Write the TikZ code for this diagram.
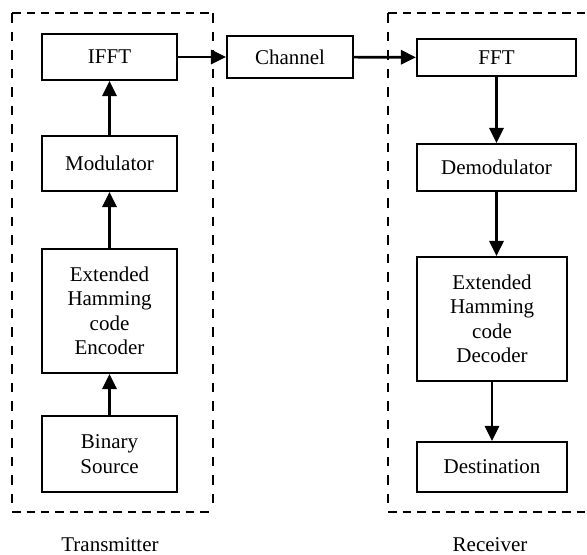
\documentclass[tikz,border=0pt]{standalone}
\usepackage{fontspec}
\setmainfont{Liberation Serif}
\usetikzlibrary{arrows.meta}
\tikzset{
  block/.style={draw, line width=1.3pt, align=center, inner sep=0pt,
    font=\fontsize{12.6}{14.7}\selectfont},
  hgroup/.style={draw, line width=1.5pt, dash pattern=on 5.1pt off 3.6pt},
  vgroup/.style={draw, line width=1.6pt, dash pattern=on 5.7pt off 5.4pt},
  caption/.style={font=\fontsize{12.6}{14.7}\selectfont},
}
\begin{document}
\begin{tikzpicture}[x=0.6pt, y=-0.6pt, >={Triangle[length=9pt,width=8.5pt]}]
            \useasboundingbox (0,0) rectangle (587,555);

            % transmitter
            \draw[hgroup] (12,13) -- (213,13) (12,512) -- (213,512);
            \draw[vgroup] (12,13) -- (12,512) (213,13) -- (213,512);
            \node (ifft) [block, minimum width=81pt, minimum height=27.6pt] at (109.5,57) {IFFT};
            \node (mod) [block, minimum width=81pt, minimum height=33pt] at (109.5,163.5) {Modulator};
            \node (enc) [block, minimum width=81pt, minimum height=74.4pt] at (109.5,311) {Extended\\Hamming\\code\\Encoder};
            \node (src) [block, minimum width=81pt, minimum height=45.6pt] at (109.5,454) {Binary\\Source};

            \node (chan) [block, minimum width=75.6pt, minimum height=25.2pt] at (290,57) {Channel};

            % receiver
            \draw[hgroup] (388,13) -- (592,13) (388,512) -- (592,512);
            \draw[vgroup] (388,13) -- (388,512);
            \node (fft) [block, minimum width=95.4pt, minimum height=22.2pt] at (496.5,57.5) {FFT};
            \node (demod) [block, minimum width=95.4pt, minimum height=28.2pt] at (496.5,167.5) {Demodulator};
            \node (dec) [block, minimum width=90pt, minimum height=74.4pt] at (492,319) {Extended\\Hamming\\code\\Decoder};
            \node (dest) [block, minimum width=90pt, minimum height=30pt] at (492,467) {Destination};

            \node (tx) [caption] at (110,545) {Transmitter};
            \node (rx) [caption] at (490,545) {Receiver};

            \path[->, line width=1.6pt]
            (src) edge (enc)
            (enc) edge (mod)
            (mod) edge (ifft)
            (ifft) edge (chan)
            (chan) edge (fft)
            (fft) edge (demod)
            (demod.south) edge (demod.south |- dec.north)
            (dec) edge (dest);
        \end{tikzpicture}
\end{document}
